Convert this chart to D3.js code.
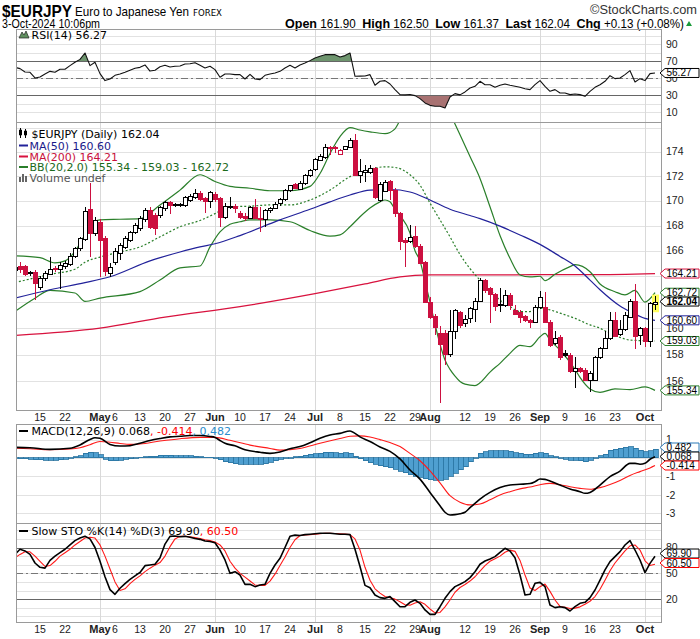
<!DOCTYPE html>
<html><head><meta charset="utf-8">
<script src="https://cdn.jsdelivr.net/npm/d3@7"></script>
<style>body{margin:0;background:#fff}svg{display:block}</style>
</head><body>
<svg id="c" width="700" height="639"></svg>
<script>
// ---------------- DATA ----------------
const opens=[164.45,164.83,164.8,164.2,164.35,163.13,163.83,164.2,164.62,164.6,164.75,164.95,165.55,166.18,166.98,169.3,167.4,168.3,166.98,164.28,165.13,165.8,166.3,166.9,167.5,167.8,168.5,169.25,168.85,168.8,169.4,169.9,169.65,169.6,169.65,170.05,170.3,170.64,170.2,170.0,170.5,170.2,168.7,169.5,169.55,169.0,168.8,168.6,169.5,168.6,168.5,169.25,169.4,169.8,170.1,170.85,171.35,171.0,171.45,172.0,172.6,173.3,173.55,174.4,174.35,173.85,174.2,174.4,175.0,172.1,172.3,172.3,172.65,170.05,170.85,171.6,170.85,168.98,166.85,166.72,167.2,166.4,165.1,162.0,160.9,159.6,159.6,158.05,159.8,161.2,160.35,160.75,161.5,162.1,163.7,163.1,162.6,161.8,161.78,162.55,161.4,161.27,160.9,160.62,160.5,161.65,161.65,160.5,158.85,159.3,158.1,157.98,156.75,157.0,156.85,156.1,156.1,157.8,158.5,159.25,160.65,159.55,159.9,160.9,162.1,159.45,160.0,159.0,161.90];
const highs=[164.9,165.14,164.9,164.4,164.5,164.0,164.4,165.48,164.8,165.1,165.2,165.8,166.3,167.1,169.5,171.4,168.7,168.5,167.2,165.0,166.2,166.6,167.2,167.6,168.2,168.8,169.4,169.5,169.0,169.6,170.0,170.0,169.8,169.8,170.4,170.5,170.94,170.8,170.3,170.8,170.7,170.3,169.8,170.3,169.7,169.2,169.0,169.6,170.1,169.5,169.3,169.5,169.9,170.2,170.9,171.3,171.4,171.6,172.2,172.6,173.5,173.8,174.6,174.5,174.5,174.2,174.5,175.1,175.47,173.37,172.9,172.9,172.7,171.5,171.7,171.7,171.0,169.1,167.0,168.04,167.96,166.5,165.2,162.4,161.1,160.2,159.9,161.39,161.5,161.3,161.0,161.6,162.3,163.85,163.8,163.2,162.7,163.05,162.9,162.7,161.8,161.4,161.0,160.7,161.8,162.83,162.75,160.6,159.75,159.5,158.35,158.1,157.8,157.1,157.0,156.8,157.9,158.6,159.75,161.2,161.2,160.6,161.2,162.2,163.4,160.1,160.1,162.0,162.50];
const lows=[164.2,164.22,164.0,164.05,162.15,162.95,163.6,164.1,164.3,162.98,164.6,164.8,165.4,166.0,166.8,165.53,167.2,163.96,164.0,163.96,164.9,165.3,166.1,166.7,167.3,167.6,168.3,167.7,167.25,168.6,169.2,168.9,169.5,169.5,169.5,169.9,170.1,170.0,169.0,169.4,169.9,167.9,168.5,169.3,169.0,168.5,168.4,168.5,168.5,167.5,167.9,169.0,169.3,169.6,170.0,170.7,170.9,170.9,171.3,171.9,172.4,173.2,173.4,173.7,173.9,173.8,174.1,174.3,172.0,171.4,171.55,172.2,170.1,169.9,170.7,170.05,168.7,166.05,164.75,166.6,166.2,165.0,161.9,160.7,159.5,154.4,157.23,157.85,159.2,160.0,160.1,160.4,160.5,162.0,162.7,160.4,161.3,161.2,161.6,161.4,161.0,160.37,160.5,160.0,160.4,161.5,160.4,158.6,158.7,157.6,157.8,156.6,155.5,156.6,156.0,155.2,156.0,157.7,158.4,159.1,159.4,159.4,159.8,160.8,158.45,158.7,158.6,158.6,161.37];
const closes=[164.7,164.62,164.17,164.3,163.5,163.83,164.22,164.6,164.54,164.88,165.0,165.58,166.18,166.98,169.18,167.4,168.45,166.85,164.35,164.75,166.0,166.45,166.98,167.5,168.05,168.58,169.25,167.9,167.85,169.45,169.9,169.65,169.7,169.72,170.27,170.37,170.64,170.13,169.95,170.7,170.1,168.7,169.55,169.6,169.4,168.7,168.6,169.5,168.6,168.55,169.25,169.4,169.75,170.1,170.85,171.25,171.0,171.45,172.1,172.45,173.4,173.65,174.4,174.3,174.25,174.15,174.45,175.0,172.1,172.4,172.45,172.65,170.25,171.35,171.55,170.9,168.98,166.72,166.7,167.05,166.4,165.1,162.03,160.88,160.03,158.8,158.03,159.8,161.39,160.2,160.68,161.52,162.1,163.7,162.93,162.6,161.65,161.85,162.55,161.78,161.1,160.88,160.62,160.5,161.65,162.4,160.5,158.72,159.23,157.8,157.95,156.75,157.0,156.8,156.1,156.65,157.85,158.5,159.25,160.65,159.45,159.92,161.0,162.1,159.4,159.98,159.0,161.91,162.04];

// overlays, read at [bar, value]
const ma50=[[0,162.3],[7,162.95],[14,163.5],[19,163.96],[27,165.2],[33,165.9],[37,166.3],[40,166.55],[45,167.2],[53,168.45],[59,169.3],[63,169.9],[67,170.45],[71,170.85],[75,170.9],[79,170.7],[83,170.05],[87,169.3],[91,168.8],[93,168.55],[97,167.95],[101,167.25],[105,166.5],[109,165.55],[112,164.8],[115,163.7],[117,162.95],[121,161.7],[123,161.27],[126,160.75],[128,160.6]];
const ma200=[[0,159.45],[17,160.0],[30,160.85],[45,161.65],[60,162.65],[70,163.4],[77,163.95],[83,164.1],[95,164.1],[105,164.12],[115,164.12],[128,164.21]];
const bbUpper=[[0,165.6],[5,165.45],[8,165.05],[10,165.2],[12,165.95],[14,167.25],[16,168.3],[17,168.45],[21,168.5],[25,168.55],[29,169.65],[33,170.85],[37,172.1],[40,171.55],[43,171.15],[47,171.0],[51,170.8],[55,170.8],[59,171.15],[61,172.2],[63,173.85],[65,175.25],[67,176.0],[69,175.8],[71,175.65],[74,175.5],[76,175.9],[77,176.6],[79,177.5],[81,178.2],[83,178.6],[85,178.4],[87,177.2],[88,176.3],[89,175.4],[91,173.6],[93,171.8],[95,169.5],[97,167.2],[99,165.4],[101,164.1],[103,163.95],[105,164.0],[106,163.65],[108,164.15],[111,164.75],[112,164.9],[115,164.35],[117,163.4],[120,162.8],[122,162.55],[124,162.9],[126,162.0],[128,162.72]];
const bbMid=[[0,163.5],[7,164.15],[12,164.55],[14,165.1],[17,165.5],[21,165.9],[25,166.3],[29,167.1],[33,167.9],[37,168.4],[40,168.95],[43,169.5],[47,169.55],[51,169.65],[55,169.65],[59,170.05],[63,170.85],[67,171.95],[71,172.55],[74,172.75],[76,172.7],[79,172.1],[81,171.25],[83,169.8],[85,168.45],[87,167.1],[89,165.7],[91,164.6],[93,163.7],[95,162.95],[97,162.15],[99,161.65],[101,161.27],[103,161.27],[105,161.52],[107,161.4],[109,161.15],[112,160.75],[115,160.25],[117,160.0],[119,159.6],[121,159.3],[123,159.1],[126,159.05],[128,159.03]];
const bbLower=[[0,161.28],[4,162.3],[7,162.9],[12,162.7],[14,162.05],[17,162.3],[25,162.8],[29,163.7],[33,164.65],[37,164.8],[39,166.3],[41,167.5],[43,168.1],[45,168.3],[47,168.45],[51,168.45],[55,168.3],[59,167.6],[63,167.15],[65,167.25],[67,167.9],[69,168.7],[71,169.4],[73,169.9],[74,170.05],[75,169.9],[76,169.3],[77,168.8],[79,167.4],[80,166.0],[81,165.2],[82,163.6],[83,162.0],[84,160.3],[85,158.8],[86,157.6],[87,156.9],[88,156.4],[89,156.0],[90,155.8],[92,155.7],[93,155.9],[95,156.7],[97,157.35],[99,158.1],[101,158.7],[103,158.6],[105,159.35],[106,159.6],[107,159.1],[109,158.35],[112,156.9],[113,156.3],[115,155.45],[117,155.2],[120,155.45],[123,155.4],[126,155.6],[128,155.34]];

const rsi=[62.9,61.4,57.4,57.1,50.4,51.6,55.1,58.2,57.1,60.6,60.6,64.9,68.8,72.3,79.8,64.9,68.8,55.5,47.3,49.2,53.5,55.1,57.1,59.4,61.8,62.9,65.7,58.5,59.5,63.5,65.3,63.3,64.1,64.5,66.9,67.2,68.4,65.3,62.2,64.1,60.2,51.2,55.1,55.1,54.3,54.3,49.2,54.7,49.2,48.4,53.5,55.1,56.3,58.2,62.2,65.3,62.2,65.7,68.0,70.8,73.9,75.9,77.8,77.8,77.8,75.1,76.7,79.8,52.4,52.6,52.8,54.3,41.8,46.5,47.3,43.3,36.7,30.8,30.5,31.0,29.6,26.1,21.0,18.2,17.1,17.1,15.1,28.0,32.0,30.5,34.0,38.6,40.6,46.5,42.5,42.5,39.4,41.8,43.3,41.8,40.6,39.4,37.8,36.7,42.5,47.3,40.6,34.7,36.7,32.8,32.8,30.8,31.5,30.8,28.8,34.7,39.4,42.5,46.5,53.1,49.6,50.4,54.3,59.0,45.7,49.6,47.3,55.5,56.27];

const macd=[[0,0.58],[3,0.56],[7,0.47],[11,0.53],[13,0.71],[15,1.01],[16,1.1],[17,1.07],[19,0.74],[21,0.65],[23,0.67],[25,0.8],[27,0.95],[29,1.06],[31,1.15],[33,1.18],[35,1.22],[37,1.22],[39,1.17],[40,1.12],[41,0.95],[42,0.8],[44,0.66],[46,0.45],[49,0.31],[51,0.25],[53,0.33],[55,0.5],[57,0.62],[59,0.83],[61,1.07],[63,1.25],[65,1.34],[67,1.47],[68,1.34],[69,1.15],[71,0.9],[73,0.6],[75,0.36],[77,-0.05],[79,-0.65],[81,-1.15],[83,-1.87],[85,-2.6],[86,-2.95],[87,-3.1],[88,-3.08],[89,-3.03],[90,-2.95],[91,-2.7],[92,-2.47],[93,-2.23],[95,-1.87],[97,-1.61],[99,-1.47],[101,-1.43],[103,-1.39],[104,-1.29],[105,-1.14],[106,-1.16],[107,-1.25],[109,-1.47],[111,-1.68],[113,-1.83],[114,-1.92],[115,-1.87],[117,-1.47],[119,-1.01],[121,-0.71],[123,-0.29],[124,-0.29],[125,-0.34],[126,-0.29],[127,-0.07],[128,0.068]];
const signal=[[0,0.53],[3,0.5],[7,0.45],[11,0.49],[13,0.56],[15,0.72],[17,0.9],[19,0.86],[21,0.79],[23,0.74],[25,0.76],[29,0.92],[33,1.05],[37,1.12],[40,1.12],[43,0.96],[47,0.7],[51,0.52],[53,0.43],[57,0.52],[61,0.8],[65,1.06],[67,1.18],[69,1.2],[71,1.14],[73,1.0],[75,0.84],[77,0.62],[79,0.25],[81,-0.15],[83,-0.7],[85,-1.35],[87,-2.05],[89,-2.4],[91,-2.55],[93,-2.5],[95,-2.27],[97,-2.01],[99,-1.83],[101,-1.68],[103,-1.58],[105,-1.45],[107,-1.38],[109,-1.45],[111,-1.56],[113,-1.65],[115,-1.7],[117,-1.61],[119,-1.44],[121,-1.22],[123,-0.95],[125,-0.74],[127,-0.54],[128,-0.414]];
const hist=[-0.02,-0.03,-0.05,-0.07,-0.09,-0.1,-0.12,-0.12,-0.11,-0.1,-0.08,0.0,0.06,0.12,0.25,0.3,0.28,0.18,-0.08,-0.15,-0.15,-0.13,-0.08,-0.04,0.0,0.04,0.08,0.1,0.1,0.14,0.15,0.15,0.13,0.12,0.12,0.12,0.1,0.08,0.04,0.03,0.0,-0.1,-0.2,-0.25,-0.3,-0.33,-0.35,-0.35,-0.34,-0.33,-0.3,-0.22,-0.15,-0.08,-0.02,0.02,0.06,0.1,0.15,0.2,0.24,0.27,0.3,0.3,0.28,0.27,0.28,0.25,0.1,-0.05,-0.15,-0.25,-0.35,-0.42,-0.48,-0.52,-0.6,-0.72,-0.8,-0.9,-0.98,-1.05,-1.12,-1.18,-1.2,-1.2,-1.15,-1.0,-0.82,-0.65,-0.48,-0.2,0.02,0.25,0.34,0.4,0.4,0.4,0.4,0.38,0.29,0.25,0.2,0.2,0.25,0.29,0.25,0.13,0.07,-0.02,-0.07,-0.11,-0.11,-0.16,-0.2,-0.11,0.02,0.13,0.2,0.43,0.47,0.53,0.58,0.62,0.53,0.43,0.34,0.4,0.482];

const stoK=[72,78,76,72,62,57,56,65,70,74,78,83,88,91,93,90,80,64,46,31,25.6,32.6,38,43,47,51,58.9,59.7,60.5,68,84,93,93.4,92.5,93,92,90.5,89.5,87.5,87,85.5,77,65.5,50,51.9,48,37.2,37.2,34.5,36.4,37.2,50,59.7,67.4,80,93,94.4,94,95,95.5,96,96.5,96.5,96.5,96,95.5,95.5,95,78,58,36,33.3,24.8,21.7,20.9,22.9,17.1,11.2,11.2,16.3,19,15.1,7.4,2.3,2.3,11.2,20.9,28.7,34.5,37.2,40.3,45,51.9,60.5,64.3,66.7,69.4,74.4,79.1,76,68,48,24.8,25.6,38.4,39.5,34.5,13.2,10.1,11.2,10.1,6.2,11.2,15.1,16.3,21.7,30.6,42.2,53.9,63.6,69.4,75.2,82.9,88,77.1,65.5,50.8,61.6,69.9];
const stoD=[68,72,75,75,70,64,58,59,64,70,74,78,83,87,91,92,91,83,70,55,40,30,32,38,43,47,52,56,59.5,62.5,70,81,90,93,93,92.5,91.5,90.5,89,88,86.5,83,76,64,56,50,45.5,41,36.5,36,36,41,49,59,69,80,89,94,94.5,95,95.5,96,96.5,96.5,96.3,96,95.7,95,90,77,57,42,32,27,23,21.5,20,17,13.5,13,15.5,17,14,8.5,4,4.5,11,19,28,33.5,37,41,46,52.5,59,64,67,70,74.5,77,75.5,65,48,33,30,34.5,37.5,29,19,11.5,10.5,9,9.5,11,14,17.5,23,31.5,42,53,62,69,76,82,83,77,64.5,59,60.5];

const mainTicks=[156,158,160,166,168,170,172,174];
const mainGrid=[156,158,160,162,164,166,168,170,172,174,176];
const rsiTicks=[10,30,50,70,90];
const macdTicks=[1,-1,-2,-3];
const stoTicks=[20,50,80];
const xTickDates=["2024-04-15","2024-04-22","2024-05-01","2024-05-06","2024-05-13","2024-05-20","2024-05-27","2024-06-03","2024-06-10","2024-06-17","2024-06-24","2024-07-01","2024-07-08","2024-07-15","2024-07-22","2024-07-29","2024-08-01","2024-08-12","2024-08-19","2024-08-26","2024-09-02","2024-09-09","2024-09-16","2024-09-23","2024-10-01"];
const xTickLabels=["15","22","May","6","13","20","27","Jun","10","17","24","Jul","8","15","22","29","Aug","12","19","26","Sep","9","16","23","Oct"];
const monthTicks=["May","Jun","Jul","Aug","Sep","Oct"];

// ---------------- LAYOUT ----------------
const L=16,R=662;
const FN="'Liberation Sans Narrow','Arial Narrow','Liberation Sans',Arial,sans-serif";
const FS="'Liberation Sans',Arial,sans-serif";
const FV="'DejaVu Sans',Verdana,sans-serif";
const RED='#cc1040', MA200C='#d8123e', GREEN='#2a7f2a', BLUE='#22229a';
const svg=d3.select('#c');

const dates=d3.timeDays(new Date(2024,3,8),new Date(2024,9,4)).filter(d=>d.getDay()!==0&&d.getDay()!==6);
const fmt=d3.timeFormat('%Y-%m-%d');
const x=d3.scaleLinear().domain([0,dates.length-1]).range([15,655]);
const idxOf=s=>dates.findIndex(d=>fmt(d)===s);

const P={rsi:[29,122],main:[122,410],macd:[424,523],sto:[523,622]};
const yR=d3.scaleLinear().domain([-1.4,108]).range([122,29]);
const yM=d3.scaleLog().domain([153.90,176.47]).range([410,122]);
const yD=d3.scaleLinear().domain([-3.533,1.848]).range([523,424]);
const yS=d3.scaleLinear().domain([-6.6,108.5]).range([622,523]);

const defs=svg.append('defs');
function clip(id,t,b){defs.append('clipPath').attr('id',id).append('rect').attr('x',L).attr('y',t).attr('width',R-L).attr('height',b-t);}
clip('cR',P.rsi[0],P.rsi[1]);clip('cM',P.main[0],P.main[1]);clip('cD',P.macd[0],P.macd[1]);clip('cS',P.sto[0],P.sto[1]);
clip('cR70',P.rsi[0],yR(70));clip('cR30',yR(30),P.rsi[1]);

const px=v=>Math.round(v)+0.5;
const monthIdx=xTickDates.filter((d,k)=>monthTicks.includes(xTickLabels[k])).map(idxOf);

function grid(t,b,ys,yScale){
  const g=svg.append('g');
  ys.forEach(v=>{const yy=px(yScale(v)); if(yy>t&&yy<b) g.append('line').attr('x1',L).attr('x2',R).attr('y1',yy).attr('y2',yy).attr('stroke','#e2e2e2');});
  monthIdx.forEach(i=>{const xx=px(x(i)); g.append('line').attr('x1',xx).attr('x2',xx).attr('y1',t).attr('y2',b).attr('stroke','#d9d9d9');});
}
function hline(yScale,v,dash,color){
  const yy=px(yScale(v));
  svg.append('line').attr('x1',L).attr('x2',R).attr('y1',yy).attr('y2',yy).attr('stroke',color||'#666').attr('stroke-dasharray',dash||null);
}
function axisLabels(yScale,ticks){
  ticks.forEach(v=>svg.append('text').attr('x',666).attr('y',yScale(v)).attr('dy','0.36em').attr('font-family',FS).attr('font-size',10.5).attr('fill','#222').text(v));
}
function tagAt(yy,txt,color,bold){
  const g=svg.append('g');
  g.append('path').attr('d',`M660,${yy} L665,${yy-4.5} L699,${yy-4.5} L699,${yy+4.5} L665,${yy+4.5} Z`).attr('fill','#fff').attr('stroke',color).attr('stroke-width',1);
  g.append('text').attr('x',666.5).attr('y',yy+3.5).attr('font-family',FS).attr('font-size',10).attr('font-weight',bold?'bold':null).attr('fill','#000').text(txt);
}
function border(t,b){svg.append('rect').attr('x',L+0.5).attr('y',t+0.5).attr('width',R-L-1).attr('height',b-t).attr('fill','none').attr('stroke','#9a9a9a');}
function sparseLine(data,yScale,color,w,dash,clipId){
  svg.append('path').datum(data).attr('clip-path',`url(#${clipId})`).attr('fill','none').attr('stroke',color).attr('stroke-width',w).attr('stroke-dasharray',dash||null)
    .attr('d',d3.line().x(d=>x(d[0])).y(d=>yScale(d[1])).curve(d3.curveMonotoneX));
}
function denseLine(arr,yScale,color,w,clipId){
  svg.append('path').datum(arr).attr('clip-path',`url(#${clipId})`).attr('fill','none').attr('stroke',color).attr('stroke-width',w).attr('stroke-linejoin','round')
    .attr('d',d3.line().x((d,i)=>x(i)).y(d=>yScale(d)));
}

// ---------------- HEADER ----------------
svg.append('text').attr('x',2).attr('y',17).attr('font-family',FN).attr('font-weight','bold').attr('font-size',17).attr('textLength',70).attr('lengthAdjust','spacingAndGlyphs').text('$EURJPY');
svg.append('text').attr('x',75).attr('y',16).attr('font-family',FN).attr('font-size',13).attr('textLength',114).attr('lengthAdjust','spacingAndGlyphs').text('Euro to Japanese Yen');
svg.append('text').attr('x',193).attr('y',16).attr('font-family',FV).attr('font-size',9.5).attr('textLength',29).attr('lengthAdjust','spacingAndGlyphs').text('FOREX');
svg.append('text').attr('x',590).attr('y',14).attr('font-family',FN).attr('font-size',12).attr('fill','#333').attr('textLength',107).attr('lengthAdjust','spacingAndGlyphs').text('©StockCharts.com');
svg.append('text').attr('x',2).attr('y',27.5).attr('font-family',FN).attr('font-size',12.5).attr('textLength',98).attr('lengthAdjust','spacingAndGlyphs').text('3-Oct-2024 10:06pm');
const hdr=svg.append('text').attr('x',285).attr('y',27.5).attr('font-family',FN).attr('font-size',12.5).attr('textLength',399).attr('lengthAdjust','spacingAndGlyphs');
[['Open',1],[' 161.90  ',0],['High',1],[' 162.50  ',0],['Low',1],[' 161.37  ',0],['Last',1],[' 162.04  ',0],['Chg',1],[' +0.13 (+0.08%)',0]].forEach(([t,b])=>hdr.append('tspan').attr('font-weight',b?'bold':null).attr('font-size',b?13.5:12.5).attr('xml:space','preserve').text(t));
svg.append('path').attr('d','M686,26 L692,26 L689,21 Z').attr('fill','#1a9a3a');

// ---------------- RSI PANEL ----------------
grid(P.rsi[0],P.rsi[1],[10,20,30,40,50,60,70,80,90,100],yR);
svg.append('path').datum(rsi).attr('clip-path','url(#cR70)').attr('fill','#6e956e').attr('d',d3.area().x((d,i)=>x(i)).y0(yR(70)).y1(d=>yR(d)));
svg.append('path').datum(rsi).attr('clip-path','url(#cR30)').attr('fill','#a87272').attr('d',d3.area().x((d,i)=>x(i)).y0(yR(30)).y1(d=>yR(d)));
hline(yR,70,null,'#666');hline(yR,30,null,'#666');hline(yR,50,'7,3,2,3','#777');
denseLine(rsi,yR,'#111',1.1,'cR');
border(P.rsi[0],P.rsi[1]);
svg.append('path').attr('d','M19,38 L22,32 L24,35 L26,31 L29,38 Z').attr('fill','#5f8f5f').attr('stroke','#222').attr('stroke-width',0.7);
svg.append('text').attr('x',31.5).attr('y',39).attr('font-family',FV).attr('font-size',11).text('RSI(14) 56.27');
axisLabels(yR,rsiTicks);
tagAt(yR(rsi[rsi.length-1]),'56.27','#000');

// ---------------- MAIN PANEL ----------------
grid(P.main[0],P.main[1],mainGrid,yM);
sparseLine(ma200,yM,MA200C,1.2,null,'cM');
sparseLine(bbUpper,yM,GREEN,1.2,null,'cM');
sparseLine(bbLower,yM,GREEN,1.2,null,'cM');
sparseLine(bbMid,yM,GREEN,1.2,'2,2','cM');
sparseLine(ma50,yM,BLUE,1.2,null,'cM');
const last=closes.length-1;
svg.append('rect').attr('x',x(last)-3).attr('y',yM(highs[last])-1).attr('width',7).attr('height',yM(lows[last])-yM(highs[last])+3).attr('fill','#ffff60');
const gC=svg.append('g').attr('clip-path','url(#cM)').attr('shape-rendering','crispEdges');
closes.forEach((c,i)=>{
  const o=opens[i],h=highs[i],l=lows[i];
  const col=(i>0&&c<closes[i-1])?RED:'#000';
  const cx=Math.round(x(i))+0.5;
  gC.append('line').attr('x1',cx).attr('x2',cx).attr('y1',yM(h)).attr('y2',yM(l)).attr('stroke',col);
  const top=yM(Math.max(o,c)),bot=yM(Math.min(o,c));
  gC.append('rect').attr('x',cx-2).attr('y',Math.round(top)+0.5).attr('width',4).attr('height',Math.max(Math.round(bot-top),1)).attr('fill',c>=o?'#fff':col).attr('stroke',col);
});
border(P.main[0],P.main[1]);
// legend
const lg=svg.append('g').attr('font-family',FV).attr('font-size',11);
lg.append('path').attr('d','M20.5,128 v10 M20.5,130 h-1 v5 h2 v-5 z M25.5,129 v9 M24.5,131 h2 v4 h-2 z').attr('stroke','#000').attr('fill','#000').attr('stroke-width',1);
lg.append('text').attr('x',31.5).attr('y',138).text('$EURJPY (Daily) 162.04');
[[149.5,BLUE,'#1a1a8a','MA(50) 160.60'],[160.5,MA200C,'#c8103c','MA(200) 164.21'],[171,GREEN,'#1b6a1b','BB(20,2.0) 155.34 - 159.03 - 162.72']].forEach(([yy,lc,tc,t])=>{
  lg.append('line').attr('x1',19).attr('x2',28).attr('y1',yy-4).attr('y2',yy-4).attr('stroke',lc).attr('stroke-width',2);
  lg.append('text').attr('x',29.5).attr('y',yy).attr('fill',tc).text(t);
});
lg.append('path').attr('d','M19,182h2v-5h-2z M22,182h2v-8h-2z M25,182h2v-6h-2z').attr('fill','#666');
lg.append('text').attr('x',29.5).attr('y',181.5).attr('fill','#555').text('Volume undef');
axisLabels(yM,mainTicks);
tagAt(yM(164.21),'164.21',MA200C);
tagAt(yM(162.72),'162.72',GREEN);
tagAt(yM(closes[last]),'162.04','#000',true);
tagAt(yM(160.60),'160.60',BLUE);
tagAt(yM(159.03),'159.03',GREEN);
tagAt(yM(155.34),'155.34',GREEN);

// x-axis labels
function xLabels(yy){
  xTickDates.forEach((d,k)=>{
    const i=idxOf(d); if(i<0) return;
    const b=monthTicks.includes(xTickLabels[k]);
    svg.append('text').attr('x',x(i)).attr('y',yy).attr('text-anchor','middle').attr('font-family',FS).attr('font-size',b?11:10.5).attr('font-weight',b?'bold':null).attr('fill','#222').text(xTickLabels[k]);
  });
}
xLabels(421);

// ---------------- MACD PANEL ----------------
grid(P.macd[0],P.macd[1],[1,0,-1,-2,-3],yD);
const gH=svg.append('g').attr('clip-path','url(#cD)').attr('shape-rendering','crispEdges');
hist.forEach((v,i)=>{
  const y0=yD(0),y1=yD(v);
  gH.append('rect').attr('x',Math.round(x(i))-2).attr('y',Math.min(y0,y1)).attr('width',5).attr('height',Math.max(Math.abs(y1-y0),0.5)).attr('fill','#4f9fd0').attr('stroke','#25709e').attr('stroke-width',0.8);
});
sparseLine(signal,yD,'#ff1a1a',1.1,null,'cD');
sparseLine(macd,yD,'#000',1.6,null,'cD');
border(P.macd[0],P.macd[1]);
svg.append('line').attr('x1',19).attr('x2',28).attr('y1',431).attr('y2',431).attr('stroke','#000').attr('stroke-width',2);
const mt=svg.append('text').attr('x',31.5).attr('y',435).attr('font-family',FV).attr('font-size',11);
mt.append('tspan').text('MACD(12,26,9) 0.068');
mt.append('tspan').attr('fill','#ff0000').text(', -0.414');
mt.append('tspan').attr('fill','#2a8ccc').text(', 0.482');
axisLabels(yD,macdTicks);
tagAt(447.5,'0.482','#2a7ab8');
tagAt(456.5,'0.068','#000');
tagAt(465.5,'-0.414','#ff0000');

// ---------------- STO PANEL ----------------
grid(P.sto[0],P.sto[1],[0,10,20,30,40,50,60,70,80,90,100],yS);
hline(yS,80,null,'#666');hline(yS,20,null,'#666');hline(yS,50,'7,3,2,3','#777');
denseLine(stoD,yS,'#ff1a1a',1.1,'cS');
denseLine(stoK,yS,'#000',1.6,'cS');
border(P.sto[0],P.sto[1]);
svg.append('line').attr('x1',19).attr('x2',28).attr('y1',531).attr('y2',531).attr('stroke','#000').attr('stroke-width',2);
const st=svg.append('text').attr('x',31.5).attr('y',535).attr('font-family',FV).attr('font-size',11);
st.append('tspan').text('Slow STO %K(14) %D(3) 69.90');
st.append('tspan').attr('fill','#ff0000').text(', 60.50');
axisLabels(yS,stoTicks);
tagAt(553.5,'69.90','#000');
tagAt(563,'60.50','#ff0000');
xLabels(633);
</script></body></html>
